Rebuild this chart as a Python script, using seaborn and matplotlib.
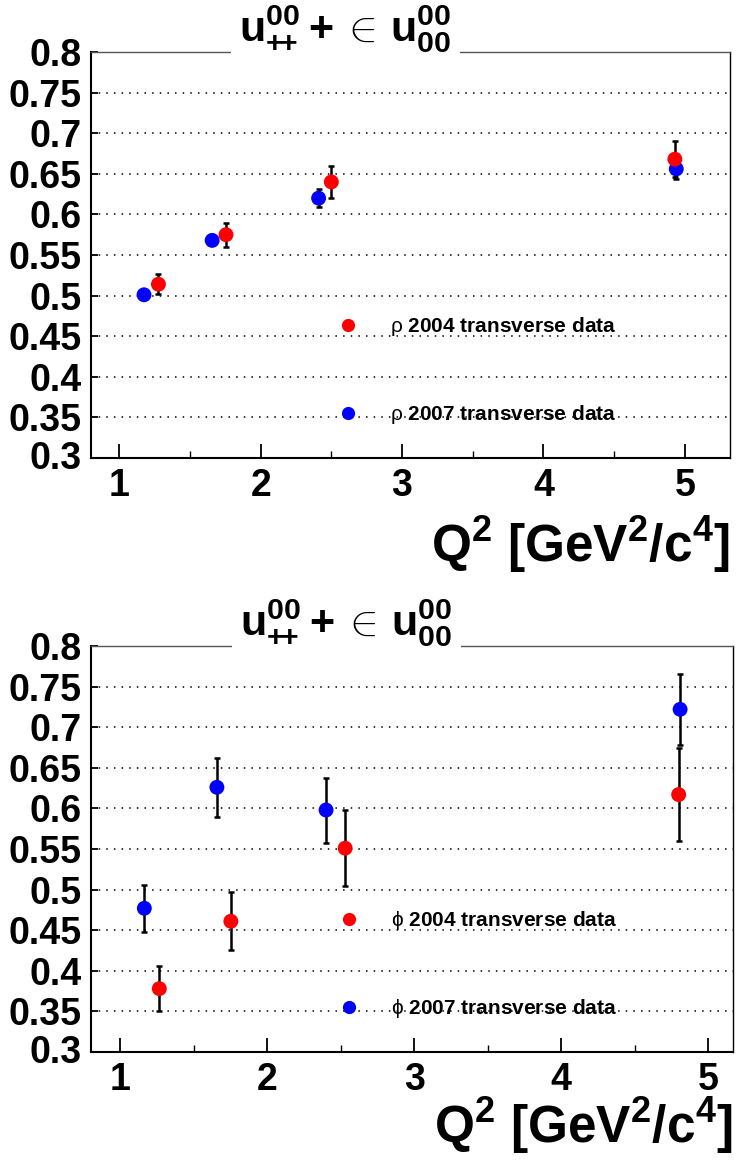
import numpy as np
import pandas as pd
import matplotlib
matplotlib.use("Agg")
import matplotlib.pyplot as plt
import matplotlib.transforms as mtransforms
from matplotlib.lines import Line2D
import seaborn as sns

# rho panel (top)
rho_q2_2004 = [1.277, 1.755, 2.50, 4.93]
rho_u_2004 = [0.514, 0.575, 0.640, 0.668]
rho_err_2004 = [0.012, 0.015, 0.020, 0.022]
rho_q2_2007 = [1.175, 1.657, 2.41, 4.94]
rho_u_2007 = [0.501, 0.568, 0.620, 0.656]
rho_err_2007 = [0.005, 0.005, 0.011, 0.012]

# phi panel (bottom)
phi_q2_2004 = [1.265, 1.752, 2.53, 4.80]
phi_u_2004 = [0.378, 0.461, 0.551, 0.617]
phi_err_2004 = [0.028, 0.036, 0.047, 0.057]
phi_q2_2007 = [1.163, 1.657, 2.40, 4.81]
phi_u_2007 = [0.477, 0.626, 0.598, 0.722]
phi_err_2007 = [0.029, 0.036, 0.040, 0.044]

y_ticks = [0.3, 0.35, 0.4, 0.45, 0.5, 0.55, 0.6, 0.65, 0.7, 0.75, 0.8]
y_tick_labels = ['0.3', '0.35', '0.4', '0.45', '0.5', '0.55', '0.6', '0.65', '0.7', '0.75', '0.8']
x_ticks = [1, 2, 3, 4, 5]
x_minor = [1.5, 2.5, 3.5, 4.5]

title = (r"$\mathbf{u}^{\mathbf{00}}_{\mathbf{+}\!\mathbf{+}}\:\mathbf{+}\:"
         r"\mathrm{\in}\,\mathbf{u}^{\mathbf{00}}_{\mathbf{00}}$")
xlabel = r"Q$^{\mathbf{2}}$ [GeV$^{\mathbf{2}}$/c$^{\mathbf{4}}$]"

sns.set_theme(style='white')
plt.rcParams['font.family'] = ['Liberation Sans', 'DejaVu Sans']
plt.rcParams['font.weight'] = 'bold'
plt.rcParams['text.color'] = 'black'
plt.rcParams['axes.labelcolor'] = 'black'
plt.rcParams['xtick.color'] = 'black'
plt.rcParams['ytick.color'] = 'black'
plt.rcParams['mathtext.fontset'] = 'custom'
plt.rcParams['mathtext.rm'] = 'Liberation Sans:weight=normal'
plt.rcParams['mathtext.bf'] = 'Liberation Sans:weight=bold'
plt.rcParams['mathtext.it'] = 'Liberation Sans:italic:weight=normal'


def draw_panel(ax, q04, u04, e04, q07, u07, e07, xmax, particle, label_y):
    df = pd.DataFrame({
        'Q2': q07 + q04,
        'u': u07 + u04,
        'err': e07 + e04,
        'set': ['2007'] * len(q07) + ['2004'] * len(q04),
    })
    for name in ['2007', '2004']:
        d = df[df['set'] == name]
        ax.errorbar(d['Q2'], d['u'], yerr=d['err'], fmt='none', ecolor='black',
                    elinewidth=1.8, capsize=2.5, capthick=1.8, zorder=2)
    sns.scatterplot(data=df, x='Q2', y='u', hue='set',
                    palette={'2004': '#ff0000', '2007': '#0000ff'},
                    s=115, linewidth=0, legend=False, ax=ax, zorder=3)

    ax.set_xlim(0.80, xmax)
    ax.set_ylim(0.3, 0.8)
    ax.set_yticks(y_ticks)
    ax.set_yticklabels(y_tick_labels)
    ax.set_xticks(x_ticks)
    ax.set_xticks(x_minor, minor=True)
    ax.set_xlabel('')
    ax.set_ylabel('')
    ax.tick_params(axis='y', direction='in', length=5, width=1.3, labelsize=27, pad=7,
                   left=True, right=False, colors='black')
    ax.tick_params(axis='x', which='major', direction='in', length=10, width=1.3,
                   labelsize=27, pad=7, bottom=True, top=False, colors='black')
    ax.tick_params(axis='x', which='minor', direction='in', length=5, width=1.0,
                   bottom=True, top=False, colors='black')
    ax.yaxis.grid(True, linestyle=(0, (1, 4)), color='black', linewidth=1.1)
    ax.xaxis.grid(False)
    for side in ['left', 'bottom']:
        ax.spines[side].set_color('black')
        ax.spines[side].set_linewidth(1.5)
    ax.spines['right'].set_color('black')
    ax.spines['right'].set_linewidth(1.0)
    ax.spines['top'].set_color('#555555')
    ax.spines['top'].set_linewidth(1.0)

    # lowest y label sits a little above the axis, as in the original
    lbl = ax.yaxis.get_major_ticks()[0].label1
    lbl.set_transform(lbl.get_transform() +
                      mtransforms.ScaledTranslation(0, 3 / 100, ax.figure.dpi_scale_trans))

    handles = [
        Line2D([], [], linestyle='none', marker='o', markersize=9.5,
               markerfacecolor='#ff0000', markeredgewidth=0),
        Line2D([], [], linestyle='none', marker='o', markersize=9.5,
               markerfacecolor='#0000ff', markeredgewidth=0),
    ]
    labels = [r'$\mathrm{' + particle + r'}$ 2004 transverse data',
              r'$\mathrm{' + particle + r'}$ 2007 transverse data']
    ax.legend(handles, labels, loc='center left', bbox_to_anchor=(0.386, 0.215),
              bbox_transform=ax.transAxes, frameon=False, fontsize=15,
              handlelength=1.0, handletextpad=1.5, labelspacing=3.1,
              borderpad=0, borderaxespad=0)

    ax.text(0.398, 1.027, title, transform=ax.transAxes, ha='center', va='baseline',
            fontsize=31, fontweight='bold',
            bbox=dict(facecolor='white', edgecolor='none', pad=6), zorder=10)
    ax.text(1.0, label_y, xlabel, transform=ax.transAxes, ha='right', va='baseline',
            fontsize=37, fontweight='bold')


fig = plt.figure(figsize=(7.36, 11.62), dpi=100)
ax1 = fig.add_axes([91 / 736, 1 - 458 / 1162, 639 / 736, 406 / 1162])
ax2 = fig.add_axes([91 / 736, 1 - 1052 / 1162, 642 / 736, 406 / 1162])

draw_panel(ax1, rho_q2_2004, rho_u_2004, rho_err_2004,
           rho_q2_2007, rho_u_2007, rho_err_2007, 5.32, r'\rho', -0.256)
draw_panel(ax2, phi_q2_2004, phi_u_2004, phi_err_2004,
           phi_q2_2007, phi_u_2007, phi_err_2007, 5.17, r'\phi', -0.225)

fig.savefig('out.png', dpi=100)
